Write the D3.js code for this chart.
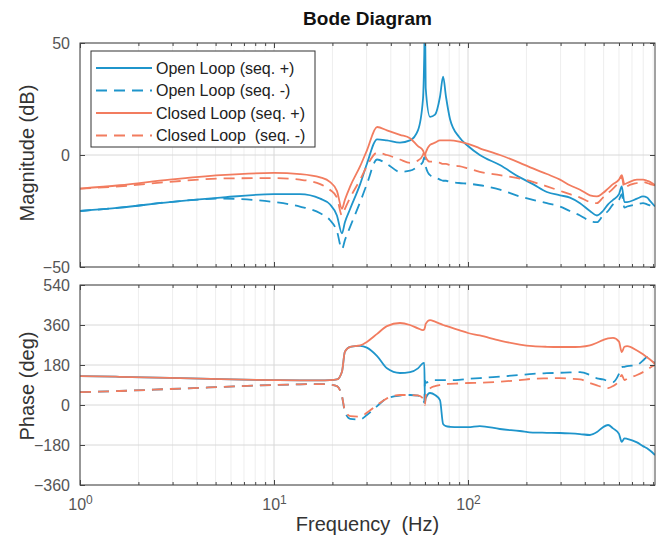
<!DOCTYPE html>
<html>
<head>
<meta charset="utf-8">
<script src="https://cdn.jsdelivr.net/npm/d3@7"></script>
<style>
  body { margin: 0; background: #fff; }
  text { font-family: "Liberation Sans", Arial, sans-serif; }
</style>
</head>
<body>
<div id="chart"></div>
<script>
// frequency grid (Hz) shared by every curve
const freq = [1, 1.6, 2.9, 5.3, 10, 13.6, 17.3, 19.4, 21.1, 22.4, 23.2, 24.7, 27.8, 30.1, 34, 38.2, 44.6, 50.2, 55.2, 58.6,
  59.5, 60, 60.5, 63.7, 67.6, 71.7, 74.4, 77, 80.8, 90, 100, 115, 146, 185, 216, 255, 298, 335, 378, 425,
  462, 496, 527, 559, 600, 620, 640, 661, 743, 798, 837, 867, 920];

// magnitude (dB)
const magOpenPos = [-25, -23.5, -21, -19, -17.5, -17.5, -19.5, -22, -27, -35, -30, -24, -13, -4, 7, 6.5, 5.5, 6.5, 11, 25,
  45, 65, 30, 17, 18, 26, 35, 26, 16, 8, 4, 0, -4.5, -10, -13, -16.5, -18, -19, -21.5, -25,
  -27, -25, -22, -20, -17.5, -14, -21, -21, -19.5, -18.5, -19, -20.5, -23];
const magOpenNeg = [-25, -23.5, -21, -19.5, -21, -23, -26, -29, -34, -42, -38, -32, -21, -13, -2, -4, -7.5, -7, -5, -3,
  -1, -2, -5, -9, -10, -11, -11.5, -11.5, -12, -12.5, -12.8, -13.5, -15.5, -18.5, -20, -21.5, -23, -25, -27, -29.5,
  -30, -27, -25, -22, -20, -17.5, -23.5, -23, -22, -21.5, -22, -22.5, -23.5];
const magClosedPos = [-15, -13.5, -11, -9, -8, -8.5, -10, -12, -16, -24, -20, -14, -5, 2, 12.5, 11, 9, 7.5, 4, 2,
  0.5, 0, 1, 4.5, 5.5, 6.5, 6.5, 6.5, 6.5, 6, 5, 3, 0, -3.5, -6, -8.5, -11, -13.5, -15.5, -18,
  -18.5, -17, -15, -13, -11, -9, -13, -12.5, -11, -11, -11.5, -12, -13.5];
const magClosedNeg = [-15, -14, -12, -10.5, -10.3, -11, -13, -15.5, -19, -27, -24, -19, -11, -5, 1, 0, -2, -3.5, -2.5, 0,
  2, 1, -1, -3, -3, -3.5, -4, -4, -4.5, -5, -6, -7.5, -9, -10.5, -12, -14, -16, -17.5, -19, -21,
  -21.5, -19, -17, -15, -12, -9.8, -15, -14, -12.5, -12, -12.5, -13, -13.5];

// phase (deg)
const phOpenPos = [130, 127, 122, 116, 112, 111, 111, 112, 115, 150, 240, 262, 266, 258, 220, 165, 144, 148, 165, 188,
  190, 12, 30, 54, 45, 22, -85, -95, -98, -100, -100, -95, -108, -117, -124, -125, -126, -128, -131, -135,
  -122, -100, -90, -105, -130, -166, -150, -152, -168, -185, -195, -205, -225];
const phOpenNeg = [58, 63, 72, 81, 90, 93, 94, 92, 85, 40, -30, -62, -65, -45, -5, 30, 42, 45, 42, 30,
  10, 110, 100, 108, 112, 112, 112, 112, 112, 113, 118, 121, 128, 135, 140, 143, 145, 147, 148, 135,
  120, 115, 108, 103, 140, 171, 172, 175, 180, 200, 215, 210, 185];
const phClosedPos = [130, 127, 122, 116, 112, 111, 111, 112, 115, 150, 240, 262, 268, 284, 320, 355, 369, 360, 345, 337,
  340, 350, 365, 382, 375, 366, 360, 356, 350, 337, 324, 313, 290, 272, 265, 262, 261, 261, 262, 268,
  280, 292, 300, 302, 285, 238, 262, 265, 245, 228, 215, 205, 185];
const phClosedNeg = [58, 63, 72, 81, 90, 93, 94, 92, 85, 40, -25, -50, -52, -35, 0, 30, 45, 45, 43, 30,
  10, 0, 40, 75, 85, 90, 92, 94, 95, 97, 99, 100, 105, 112, 118, 120, 121, 118, 115, 99,
  88, 80, 76, 85, 110, 135, 112, 118, 135, 148, 158, 168, 180];

const seriesNames = ['Open Loop (seq. +)', 'Open Loop (seq. -)', 'Closed Loop (seq. +)', 'Closed Loop  (seq. -)'];
const magTicks = [-50, 0, 50];
const phaseTicks = [-360, -180, 0, 180, 360, 540];
const freqTicks = [1, 10, 100];

const BLUE = '#1f95cb';
const ORANGE = '#f27c5f';
const series = [
  { name: seriesNames[0], mag: magOpenPos, ph: phOpenPos, color: BLUE, dash: null },
  { name: seriesNames[1], mag: magOpenNeg, ph: phOpenNeg, color: BLUE, dash: '11,7' },
  { name: seriesNames[2], mag: magClosedPos, ph: phClosedPos, color: ORANGE, dash: null },
  { name: seriesNames[3], mag: magClosedNeg, ph: phClosedNeg, color: ORANGE, dash: '11,7' }
];

const W = 661, H = 547;
const left = 80, right = 655;
const width = right - left;

const svg = d3.select('#chart').append('svg')
  .attr('width', W).attr('height', H);

const x = d3.scaleLog().domain([1, 920]).range([0, width]);

// minor log ticks 2..9 per decade
const minor = [];
[1, 10, 100].forEach(d => { for (let k = 2; k <= 9; k++) if (d * k <= 920) minor.push(d * k); });

const makePanel = (id, top, bottom, yDomain, ticks, key, xLabels) => {
  const h = bottom - top;
  const y = d3.scaleLinear().domain(yDomain).range([h, 0]);
  const g = svg.append('g').attr('transform', `translate(${left},${top})`);

  g.append('clipPath').attr('id', id).append('rect').attr('width', width).attr('height', h);

  // grid
  g.selectAll('.mg').data(minor).join('line')
    .attr('x1', d => x(d)).attr('x2', d => x(d)).attr('y1', 0).attr('y2', h)
    .attr('stroke', '#eeeeee').attr('stroke-width', 1);
  g.selectAll('.vg').data(freqTicks).join('line')
    .attr('x1', d => x(d)).attr('x2', d => x(d)).attr('y1', 0).attr('y2', h)
    .attr('stroke', '#d8d8d8').attr('stroke-width', 1);
  g.selectAll('.hg').data(ticks).join('line')
    .attr('x1', 0).attr('x2', width).attr('y1', d => y(d)).attr('y2', d => y(d))
    .attr('stroke', '#d8d8d8').attr('stroke-width', 1);

  // curves
  const line = d3.line().x((d, i) => x(freq[i])).y(d => y(d)).curve(d3.curveMonotoneX);
  const curves = g.append('g').attr('clip-path', `url(#${id})`);
  series.forEach(s => {
    curves.append('path')
      .datum(s[key])
      .attr('d', line)
      .attr('fill', 'none')
      .attr('stroke', s.color)
      .attr('stroke-width', 1.8)
      .attr('stroke-linejoin', 'round')
      .attr('stroke-dasharray', s.dash);
  });

  // axes
  const styleAxis = a => {
    a.select('.domain').remove();
    a.selectAll('line').attr('stroke', '#444');
    a.selectAll('text').attr('fill', '#555').attr('font-size', 16);
  };
  g.append('g').call(d3.axisLeft(y).tickValues(ticks).tickSize(-5).tickPadding(10)).call(styleAxis);
  g.append('g').attr('transform', `translate(${width},0)`)
    .call(d3.axisRight(y).tickValues(ticks).tickSize(-5).tickFormat('')).call(styleAxis);
  g.append('g').attr('transform', `translate(0,${h})`)
    .call(d3.axisBottom(x).tickValues(minor).tickSize(-3).tickFormat('')).call(styleAxis);
  g.append('g')
    .call(d3.axisTop(x).tickValues(minor).tickSize(-3).tickFormat('')).call(styleAxis);
  g.append('g')
    .call(d3.axisTop(x).tickValues(freqTicks).tickSize(-5).tickFormat('')).call(styleAxis);
  const bx = g.append('g').attr('transform', `translate(0,${h})`)
    .call(d3.axisBottom(x).tickValues(freqTicks).tickSize(-5).tickPadding(14)
      .tickFormat(xLabels ? d => '10' : ''))
    .call(styleAxis);
  if (xLabels) {
    bx.selectAll('text').append('tspan')
      .attr('dy', '-0.55em').attr('font-size', 12)
      .text(d => Math.round(Math.log10(d)));
  }

  g.append('rect').attr('width', width).attr('height', h)
    .attr('fill', 'none').attr('stroke', '#444').attr('stroke-width', 1);
  return g;
};

const magG = makePanel('clipMag', 43, 267, [-50, 50], magTicks, 'mag', false);
makePanel('clipPh', 285, 485, [-360, 540], phaseTicks, 'ph', true);

// legend
const lg = magG.append('g').attr('transform', 'translate(11,8)');
lg.append('rect').attr('width', 224).attr('height', 96)
  .attr('fill', '#fff').attr('stroke', '#333').attr('stroke-width', 1);
series.forEach((s, i) => {
  const yy = 17 + i * 22.5;
  lg.append('line').attr('x1', 5).attr('x2', 61).attr('y1', yy).attr('y2', yy)
    .attr('stroke', s.color).attr('stroke-width', 1.8).attr('stroke-dasharray', s.dash);
  lg.append('text').attr('x', 65).attr('y', yy + 5.5)
    .attr('font-size', 16).attr('fill', '#222')
    .style('white-space', 'pre').text(s.name);
});

// titles and labels
svg.append('text').attr('x', left + width / 2).attr('y', 25)
  .attr('text-anchor', 'middle').attr('font-size', 19).attr('font-weight', 'bold').attr('fill', '#111')
  .text('Bode Diagram');
svg.append('text').attr('transform', 'translate(34,153) rotate(-90)')
  .attr('text-anchor', 'middle').attr('font-size', 20).attr('fill', '#333')
  .text('Magnitude (dB)');
svg.append('text').attr('transform', 'translate(34,386) rotate(-90)')
  .attr('text-anchor', 'middle').attr('font-size', 20).attr('fill', '#333')
  .text('Phase (deg)');
svg.append('text').attr('x', left + width / 2).attr('y', 531)
  .attr('text-anchor', 'middle').attr('font-size', 20).attr('fill', '#333')
  .style('white-space', 'pre')
  .text('Frequency  (Hz)');
</script>
</body>
</html>
